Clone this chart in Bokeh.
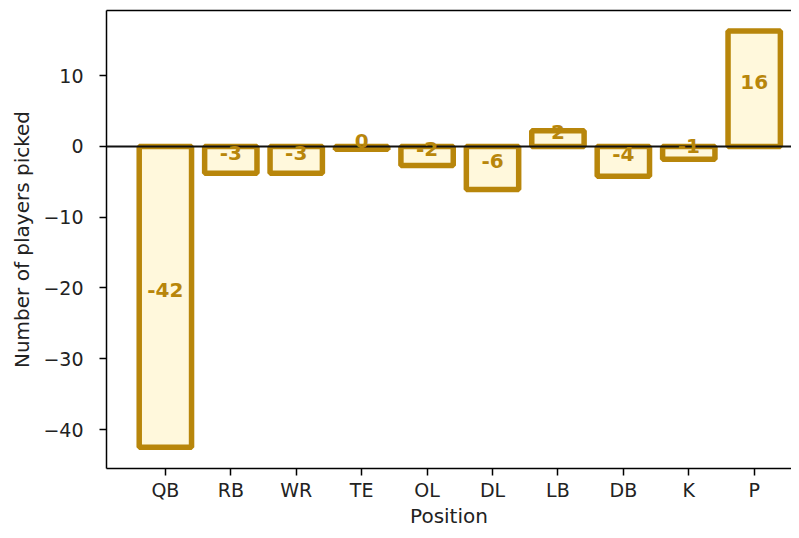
from bokeh.plotting import figure
from bokeh.models import FixedTicker, LinearAxis, Span, Range1d, ColumnDataSource
from bokeh.embed import file_html
from bokeh.resources import INLINE
from bokeh.core.properties import value

positions = ["QB", "RB", "WR", "TE", "OL", "DL", "LB", "DB", "K", "P"]
diffs = [-42.5, -3.8, -3.8, -0.4, -2.7, -6.1, 2.2, -4.2, -1.8, 16.3]
bar_labels = ["-42", "-3", "-3", "0", "-2", "-6", "2", "-4", "-1", "16"]
y_ticks = [-40, -30, -20, -10, 0, 10]

xs = list(range(len(positions)))
src = ColumnDataSource(dict(
    x=xs,
    top=diffs,
    mid=[d / 2 for d in diffs],
    lab=bar_labels,
))

FONT = "DejaVu Sans"
EDGE = "#B8860B"
FILL = "#FFF8DC"

p = figure(width=791, height=530, output_backend="svg", toolbar_location=None,
           x_range=Range1d(-0.9, 9.57), y_range=Range1d(-45.5, 19.2),
           min_border_left=106, min_border_right=0, min_border_top=10,
           min_border_bottom=62)
p.outline_line_color = None
p.xgrid.grid_line_color = None
p.ygrid.grid_line_color = None
p.background_fill_color = "white"

p.vbar(x="x", top="top", bottom=0, width=0.8, source=src,
       fill_color=FILL, line_color=EDGE, line_width=5.5)

p.add_layout(Span(location=0, dimension="width", line_color="#111111",
                  line_width=2))

txt = p.text(x="x", y="mid", text="lab", source=src, text_align="center",
             text_baseline="middle", y_offset=-7, text_color=EDGE,
             text_font=value(FONT), text_font_style="bold",
             text_font_size="20px")
txt.level = "overlay"

for ax in (p.xaxis[0], p.yaxis[0]):
    ax.axis_line_color = "black"
    ax.axis_line_width = 1.5
    ax.major_tick_line_color = "black"
    ax.major_tick_line_width = 1.5
    ax.major_tick_out = 7
    ax.major_tick_in = 0
    ax.minor_tick_line_color = None
    ax.major_label_text_font = FONT
    ax.major_label_text_font_size = "19px"
    ax.major_label_text_color = "#222222"
    ax.axis_label_text_font = FONT
    ax.axis_label_text_font_size = "20px"
    ax.axis_label_text_font_style = "normal"
    ax.axis_label_text_color = "#222222"

p.xaxis.ticker = FixedTicker(ticks=xs)
p.xaxis.major_label_overrides = {i: s for i, s in zip(xs, positions)}
p.xaxis.axis_label = "Position"
p.xaxis.major_label_standoff = 3
p.xaxis.axis_label_standoff = 0

p.yaxis.ticker = FixedTicker(ticks=y_ticks)
p.yaxis.major_label_overrides = {t: ("\u2212" + str(-t) if t < 0 else str(t)) for t in y_ticks}
p.yaxis.axis_label = "Number of players picked"
p.yaxis.major_label_standoff = 16
p.yaxis.axis_label_standoff = 6

top_ax = LinearAxis(ticker=FixedTicker(ticks=[]), axis_line_color="black",
                    axis_line_width=1.5, major_tick_line_color=None,
                    minor_tick_line_color=None, major_label_text_font_size="0px",
                    major_label_standoff=0, major_tick_out=0, major_tick_in=0)
p.add_layout(top_ax, "above")

open("out.html", "w").write(file_html(p, INLINE))
